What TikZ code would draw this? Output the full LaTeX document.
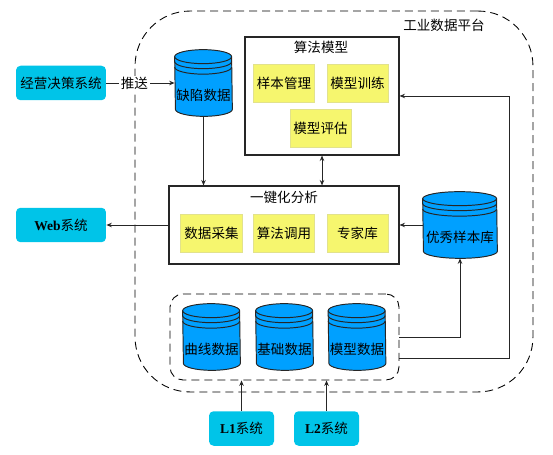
\documentclass[tikz,border=0pt]{standalone}
\usepackage{fontspec}
\setmainfont{Noto Sans CJK SC}
\newfontfamily\latinfont{Liberation Serif}
\usetikzlibrary{arrows.meta,calc,positioning}
\definecolor{sysblue}{HTML}{00C4E8}
\definecolor{dbblue}{HTML}{00A0FF}
\definecolor{funcyellow}{HTML}{F6F66E}
\definecolor{funcedge}{HTML}{E2E28C}
\def\endradius{0.14cm}
\tikzset{
    platform diagram/.style = {>={Stealth[length=1.1mm,width=0.9mm]}, x=0.02cm, y=-0.02cm,
                               font=\fontsize{7.7}{9}\selectfont},
    line/.style        = {line width=0.55pt, draw=black!85},
    block/.style       = {draw=black!85, line width=0.6pt, fill=white, inner sep=0pt},
    func/.style        = {draw=funcedge, line width=0.3pt, fill=funcyellow, inner sep=0pt,
                          minimum width=1.23cm, minimum height=0.76cm},
    system/.style      = {fill=sysblue, rounded corners=0.09cm, inner sep=0pt,
                          minimum height=0.69cm},
    database/.style    = {inner sep=0pt, minimum height=1.32cm},
    dbbody/.style      = {draw=black!85, line width=0.55pt, fill=dbblue},
    enclosure/.style   = {draw=black, line width=0.5pt, dash pattern=on 0.16cm off 0.1cm}
}
\begin{document}
\begin{tikzpicture}[platform diagram]
\useasboundingbox (0,0) rectangle (553,455);

\node[enclosure,rounded corners=1.1cm,minimum width=7.96cm,minimum height=7.62cm] (platform) at (334,201.5) {};
\node (platformtitle) at (444,25) {工业数据平台};

% model block
\node[block,minimum width=3.08cm,minimum height=2.36cm] (model) at (322,96) {};
\node (modeltitle) at (321,47) {算法模型};
\foreach \name/\x/\y/\txt in {sample/284/83/样本管理,train/357.5/83/模型训练,assess/320.5/128/模型评估}
    \node[func] (\name) at (\x,\y) {\txt};

% one-click block
\node[block,minimum width=4.6cm,minimum height=1.56cm] (onekey) at (284,225) {};
\node (onekeytitle) at (284,197) {一键化分析};
\foreach \name/\x/\y/\txt in {collect/211.5/233/数据采集,invoke/284/233/算法调用,expert/357.5/233/专家库}
    \node[func] (\name) at (\x,\y) {\txt};

% databases
\foreach \name/\x/\y/\w/\txt in {defect/203.5/83/57/缺陷数据,good/460/225/74/优秀样本库,curve/211.5/337/57/曲线数据,basic/284.5/337/57/基础数据,modeldata/357/337/57/模型数据} {
    \node[database,minimum width=\w*0.02cm] (\name) at (\x,\y) {};
    \draw[dbbody] ($(\name.north west)+(0,7)$) arc[start angle=180,end angle=0,x radius=\w*0.01cm,y radius=\endradius]
        -- ($(\name.south east)+(0,-7)$) arc[start angle=360,end angle=180,x radius=\w*0.01cm,y radius=\endradius] -- cycle;
    \foreach \offset in {7,12,17.5}
        \draw[line] ($(\name.north west)+(0,\offset)$) arc[start angle=180,end angle=360,x radius=\w*0.01cm,y radius=\endradius];
    \node (\name label) at ($(\name)+(0,12)$) {\txt};
}

\node[enclosure,rounded corners=0.26cm,minimum width=4.58cm,minimum height=1.72cm] (rawdata) at (284.5,337) {};

% outside systems
\node[system,minimum width=1.8cm] (decision) at (61,83) {经营决策系统};
\node[system,minimum width=1.8cm] (web) at (61,225) {{\latinfont\bfseries Web}系统};
\node[system,minimum width=1.3cm] (levelone) at (241.5,428.5) {{\latinfont\bfseries L1}系统};
\node[system,minimum width=1.3cm] (leveltwo) at (326.5,428.5) {{\latinfont\bfseries L2}系统};

\draw[->,line] (decision.east) -- node[fill=white,inner xsep=1pt,inner ysep=0.5pt,pos=0.41] (push) {推送} (defect.west);
\draw[->,line] (defect.south) -- (defect.south |- onekey.north);
\draw[<->,line] (model.south) -- (model.south |- onekey.north);
\draw[->,line] (onekey.west) -- (web.east);
\draw[->,line] (good.west) -- (onekey.east);
\draw[->,line] (rawdata.east) -| (good.south);
\coordinate (feedback) at (509,358);
\draw[->,line] (rawdata.east |- feedback) -- (feedback) |- (model.east);
\draw[->,line] (levelone.north) -- (levelone.north |- rawdata.south);
\draw[->,line] (leveltwo.north) -- (leveltwo.north |- rawdata.south);
\end{tikzpicture}
\end{document}
